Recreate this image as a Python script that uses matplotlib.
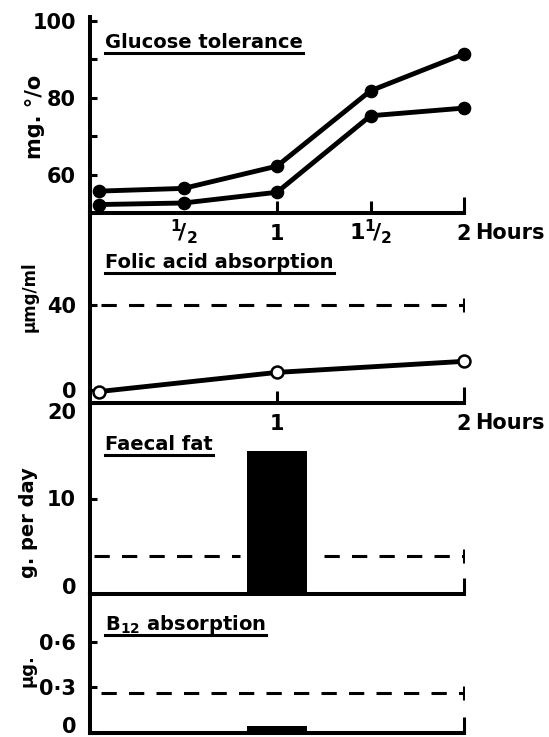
import matplotlib
matplotlib.use('Agg')
import matplotlib.pyplot as plt
from matplotlib.lines import Line2D

plt.rcParams['font.family'] = ['DejaVu Sans']
plt.rcParams['font.weight'] = 'bold'
plt.rcParams['mathtext.default'] = 'bf'

# data
glucose_hours = [0.05, 0.5, 1.0, 1.5, 2.0]
glucose_upper = [55.7, 56.4, 62.2, 81.8, 91.4]
glucose_lower = [52.2, 52.6, 55.4, 75.3, 77.3]

folic_hours = [0.05, 1.0, 2.0]
folic_values = [19.6, 24.1, 26.7]
folic_normal = 40

fat_day = [1.0]
fat_values = [15.0]
fat_normal = 4

b12_day = [1.0]
b12_values = [0.048]
b12_normal = 0.26

W, H = 549, 737
fig = plt.figure(figsize=(W / 100, H / 100), dpi=100)

LEFT, RIGHT = 90, 464


def rect(top, bottom):
    return [LEFT / W, 1 - bottom / H, (RIGHT - LEFT) / W, (bottom - top) / H]


ax1 = fig.add_axes(rect(17, 213))
ax2 = fig.add_axes(rect(213, 403))
ax3 = fig.add_axes(rect(403, 594))
ax4 = fig.add_axes(rect(594, 733))

spine_lw = 2.9
line_lw = 3.5

for ax in (ax1, ax2, ax3, ax4):
    ax.set_xlim(0, 2)
    ax.patch.set_visible(False)
    ax.spines['top'].set_visible(False)
    ax.spines['right'].set_visible(False)
    ax.spines['left'].set_linewidth(spine_lw)
    ax.spines['bottom'].set_linewidth(spine_lw)
    ax.tick_params(axis='y', which='both', direction='in', length=5, width=2.2,
                   labelsize=15, pad=10)
    ax.tick_params(axis='x', which='major', direction='in', length=9, width=2.2,
                   labelsize=15, pad=8)
    ax.tick_params(axis='x', which='minor', direction='in', length=11.5, width=2.2,
                   labelsize=15, pad=8)
    ax.set_xticks([2], minor=True)

# glucose tolerance
ax1.set_ylim(50, 101)
ax1.set_yticks([60, 80, 100])
ax1.set_yticks([70, 90], minor=True)
ax1.set_xticks([0.5, 1, 1.5], labels=[r'$^{1}\!/_{2}$', '1', r'$1^{1}\!/_{2}$'])
ax1.set_xticks([2], labels=['2'], minor=True)
ax1.xaxis.get_major_ticks()[0].tick1line.set_visible(False)
for i in (0, 2):
    ax1.get_xticklabels()[i].set_fontsize(16)
    ax1.xaxis.get_major_ticks()[i].set_pad(3)
for ys in (glucose_upper, glucose_lower):
    ax1.plot(glucose_hours, ys, '-o', color='black', lw=line_lw, ms=8.8,
             clip_on=False, zorder=3, solid_capstyle='round')
ax1.annotate('Hours', xy=(2, 0), xycoords=('data', 'axes fraction'),
             xytext=(11, -10), textcoords='offset pixels', ha='left', va='top',
             fontsize=15)

# folic acid absorption
ax2.set_ylim(16.9, 61.6)
ax2.set_yticks([20, 40], labels=['0', '40'])
ax2.set_xticks([1], labels=['1'])
ax2.set_xticks([2], labels=['2'], minor=True)
ax2.plot([0.06, 2], [folic_normal] * 2, color='black', lw=2.2,
         linestyle=(0, (5, 4)))
ax2.plot([2], [folic_normal], marker='|', color='black', ms=10, mew=2.2)
ax2.plot(folic_hours, folic_values, '-o', color='black', mfc='white', mec='black',
         mew=1.8, lw=line_lw, ms=8.6, clip_on=False, zorder=3)
ax2.annotate('Hours', xy=(2, 0), xycoords=('data', 'axes fraction'),
             xytext=(11, -10), textcoords='offset pixels', ha='left', va='top',
             fontsize=15)

# faecal fat
bar_w = 0.32
ax3.set_ylim(0, 20)
ax3.set_yticks([0, 10, 20])
ax3.set_xticks([])
ax3.set_xticks([2], labels=[''], minor=True)
ylab3 = ax3.get_yticklabels()
ylab3[0].set_va('baseline')
ylab3[2].set_va('top')
ax3.bar(fat_day, fat_values, width=bar_w, color='black', zorder=2)
c = fat_day[0]
ax3.plot([0.02, c - bar_w / 2 - 0.04], [fat_normal] * 2, color='black', lw=2.2,
         linestyle=(0, (5, 4)))
ax3.plot([c + bar_w / 2 + 0.09, 2], [fat_normal] * 2, color='black', lw=2.2,
         linestyle=(0, (5, 4)))
ax3.plot([2], [fat_normal], marker='|', color='black', ms=10, mew=2.2)

# B12 absorption
ax4.set_ylim(0, 0.912)
ax4.set_yticks([0, 0.3, 0.6], labels=['0', '0·3', '0·6'])
ax4.set_xticks([])
ax4.set_xticks([2], labels=[''], minor=True)
ax4.get_yticklabels()[0].set_va('baseline')
ax4.bar(b12_day, b12_values, width=bar_w, color='black', zorder=2)
ax4.plot([0.06, 2], [b12_normal] * 2, color='black', lw=2.2,
         linestyle=(0, (5, 4)))
ax4.plot([2], [b12_normal], marker='|', color='black', ms=10, mew=2.2)

# y axis labels
ylabels = [('mg. °/o', 35, 117, 15), ('μmg/ml', 30, 297, 12),
           ('g. per day', 29, 523, 14), ('μg.', 28, 671, 13)]
for txt, x, y, fs in ylabels:
    fig.text(x / W, 1 - y / H, txt, rotation=90, ha='center', va='center',
             fontsize=fs)

# panel titles, underlined
titles = [('Glucose tolerance', 105, 48), ('Folic acid absorption', 105, 268),
          ('Faecal fat', 105, 450), (r'B$_{12}$ absorption', 105, 630)]
title_objs = []
for txt, x, y in titles:
    t = fig.text(x / W, 1 - y / H, txt, ha='left', va='baseline', fontsize=14)
    title_objs.append((t, y))

fig.canvas.draw()
for t, y in title_objs:
    bb = t.get_window_extent()
    yy = 1 - (y + 5) / H
    fig.add_artist(Line2D([bb.x0 / W, bb.x1 / W], [yy, yy], color='black',
                          lw=2.2, transform=fig.transFigure))

fig.savefig('out.png', dpi=100)
